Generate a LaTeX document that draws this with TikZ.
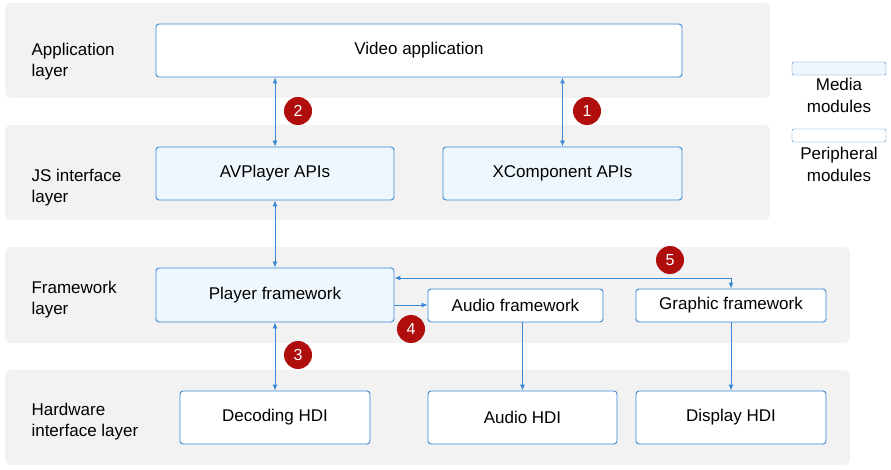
\documentclass[tikz,border=0pt]{standalone}
\usepackage{fontspec}
\setmainfont{Liberation Sans}
\usetikzlibrary{arrows.meta}
\definecolor{band}{HTML}{F2F2F2}
\definecolor{edge}{HTML}{3A87D6}
\definecolor{lite}{HTML}{EEF7FD}
\definecolor{badge}{HTML}{B00D0D}
\begin{document}
\begin{tikzpicture}[x=1pt,y=-1pt,
  bandbox/.style={fill=band,rounded corners=6pt,draw=none},
  mod/.style={draw=edge,line width=0.9pt,rounded corners=3pt,fill=white,font=\fontsize{17}{19}\selectfont},
  media/.style={mod,fill=lite},
  lay/.style={anchor=west,align=left,font=\fontsize{17}{21}\selectfont},
  con/.style={draw=edge,line width=0.9pt,-{Latex[length=6pt,width=5pt]}},
  bcon/.style={con,{Latex[length=6pt,width=5pt]}-{Latex[length=6pt,width=5pt]}},
  num/.style={circle,fill=badge,text=white,minimum size=28pt,inner sep=0pt,font=\fontsize{16}{16}\selectfont}]
\useasboundingbox (0,0) rectangle (891,470);
\fill[bandbox] (5,3) rectangle (770,98);
\fill[bandbox] (5,125) rectangle (770,220);
\fill[bandbox] (5,247) rectangle (850,343);
\fill[bandbox] (5,370) rectangle (850,465);
\node[lay] (l1) at (28,62) {Application\\layer};
\node[lay] (l2) at (28,188) {JS interface\\layer};
\node[lay] (l3) at (28,300) {Framework\\layer};
\node[lay] (l4) at (28,422) {Hardware\\interface layer};
\node[mod,minimum width=526pt,minimum height=53pt] (va) at (419,50.5) {Video application};
\node[media,minimum width=238pt,minimum height=53pt] (av) at (275,173.5) {AVPlayer APIs};
\node[media,minimum width=239pt,minimum height=53pt] (xc) at (562.5,173.5) {XComponent APIs};
\node[media,minimum width=238pt,minimum height=54pt] (pf) at (275,295) {Player framework};
\node[mod,minimum width=175pt,minimum height=33pt] (af) at (515.5,305.5) {Audio framework};
\node[mod,minimum width=190pt,minimum height=33pt] (gf) at (731,305.5) {Graphic framework};
\node[mod,minimum width=190pt,minimum height=53pt] (dh) at (275,417.5) {Decoding HDI};
\node[mod,minimum width=189pt,minimum height=53pt] (ah) at (522.5,417.5) {Audio HDI};
\node[mod,minimum width=190pt,minimum height=53pt] (xh) at (731,417.5) {Display HDI};
\coordinate (tp) at (pf.east |- 0,278);
\coordinate (ap) at (pf.east |- 0,305);
\draw[bcon] (va.south -| av) -- (av.north);
\draw[bcon] (va.south -| xc) -- (xc.north);
\draw[bcon] (av.south) -- (pf.north);
\draw[bcon] (pf.south) -- (dh.north);
\draw[bcon] (tp) -- (tp -| gf.north) -- (gf.north);
\draw[con] (ap) -- (af.west |- ap);
\draw[con] (af.south -| ah.north) -- (ah.north);
\draw[con] (gf.south) -- (xh.north);
\node[num] (n1) at (587,111) {1};
\node[num] (n2) at (298,111) {2};
\node[num] (n3) at (298,355) {3};
\node[num] (n4) at (411,329) {4};
\node[num] (n5) at (670,260) {5};
\node[draw=edge,fill=lite,rounded corners=2pt,minimum width=94pt,minimum height=13pt,inner sep=0pt] (lg1) at (839,68.5) {};
\node[anchor=north,align=center,font=\fontsize{17}{22}\selectfont,inner sep=0pt] (lt1) at (839,78) {Media\\modules};
\node[draw=edge,fill=white,rounded corners=2pt,minimum width=94pt,minimum height=13pt,inner sep=0pt] (lg2) at (839,135.5) {};
\node[anchor=north,align=center,font=\fontsize{17}{22}\selectfont,inner sep=0pt] (lt2) at (839,147) {Peripheral\\modules};
\end{tikzpicture}
\end{document}
